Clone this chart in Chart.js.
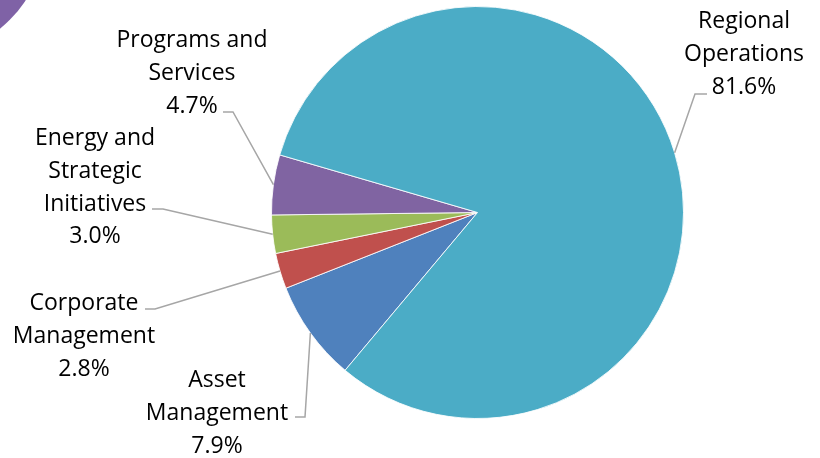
<!DOCTYPE html>
<html>
<head>
<meta charset="utf-8">
<script src="https://cdn.jsdelivr.net/npm/chart.js@4"></script>
<style>
  html, body { margin: 0; padding: 0; background: #fff; }
  #wrap { width: 820px; height: 458px; position: relative; }
</style>
</head>
<body>
<div id="wrap"><canvas id="chart"></canvas></div>
<script>
// Budget share by division (percent)
const categories = [
  'Asset Management',
  'Corporate Management',
  'Energy and Strategic Initiatives',
  'Programs and Services',
  'Regional Operations'
];
const shares = [7.9, 2.8, 3.0, 4.7, 81.6];
const colors = ['#4F81BD', '#C0504D', '#9BBB59', '#8064A2', '#4BACC6'];

// How each label is wrapped and where its text block sits
const labelLayout = [
  { lines: ['Asset', 'Management'], cx: 217, y0: 387, elbow: [305, 417], tail: [295, 417] },
  { lines: ['Corporate', 'Management'], cx: 84, y0: 310, elbow: [155, 309], tail: [145, 309] },
  { lines: ['Energy and', 'Strategic', 'Initiatives'], cx: 95, y0: 145, elbow: [163, 209], tail: [152, 209] },
  { lines: ['Programs and', 'Services'], cx: 192, y0: 47, elbow: [233, 112], tail: [223, 112] },
  { lines: ['Regional', 'Operations'], cx: 744, y0: 28, elbow: [695, 94], tail: [707, 94] }
];

const FONT = '23px "Open Sans", Lato, sans-serif';
const LINE_H = 32.8;

// Decorative purple disc peeking in at the top-left corner
const cornerDecor = {
  id: 'cornerDecor',
  beforeDraw(chart) {
    const ctx = chart.ctx;
    ctx.save();
    ctx.fillStyle = '#7F62A6';
    ctx.beginPath();
    ctx.arc(-75, -65, 120, 0, Math.PI * 2);
    ctx.fill();
    ctx.restore();
  }
};

// Category labels with elbow leader lines
const leaderLabels = {
  id: 'leaderLabels',
  afterDatasetsDraw(chart) {
    const ctx = chart.ctx;
    const meta = chart.getDatasetMeta(0);
    const values = chart.data.datasets[0].data;
    ctx.save();
    meta.data.forEach((arc, i) => {
      const p = arc.getProps(['x', 'y', 'startAngle', 'endAngle', 'outerRadius'], true);
      const mid = (p.startAngle + p.endAngle) / 2;
      const ex = p.x + Math.cos(mid) * p.outerRadius;
      const ey = p.y + Math.sin(mid) * p.outerRadius;
      const L = labelLayout[i];
      ctx.strokeStyle = '#A6A6A6';
      ctx.lineWidth = 1.5;
      ctx.beginPath();
      ctx.moveTo(ex, ey);
      ctx.lineTo(L.elbow[0], L.elbow[1]);
      ctx.lineTo(L.tail[0], L.tail[1]);
      ctx.stroke();

      ctx.fillStyle = '#000';
      ctx.font = FONT;
      ctx.textAlign = 'center';
      ctx.textBaseline = 'alphabetic';
      const lines = L.lines.concat([values[i].toFixed(1) + '%']);
      lines.forEach((t, k) => ctx.fillText(t, L.cx, L.y0 + k * LINE_H));
    });
    ctx.restore();
  }
};

new Chart(document.getElementById('chart'), {
  type: 'pie',
  data: {
    labels: categories,
    datasets: [{
      data: shares,
      backgroundColor: colors,
      borderColor: 'rgba(255,255,255,0.85)',
      borderWidth: 1
    }]
  },
  options: {
    responsive: true,
    maintainAspectRatio: false,
    animation: false,
    rotation: 220,
    layout: { padding: { left: 271, top: 6, right: 136, bottom: 39 } },
    plugins: {
      legend: { display: false },
      tooltip: { enabled: false }
    }
  },
  plugins: [cornerDecor, leaderLabels]
});
</script>
</body>
</html>
